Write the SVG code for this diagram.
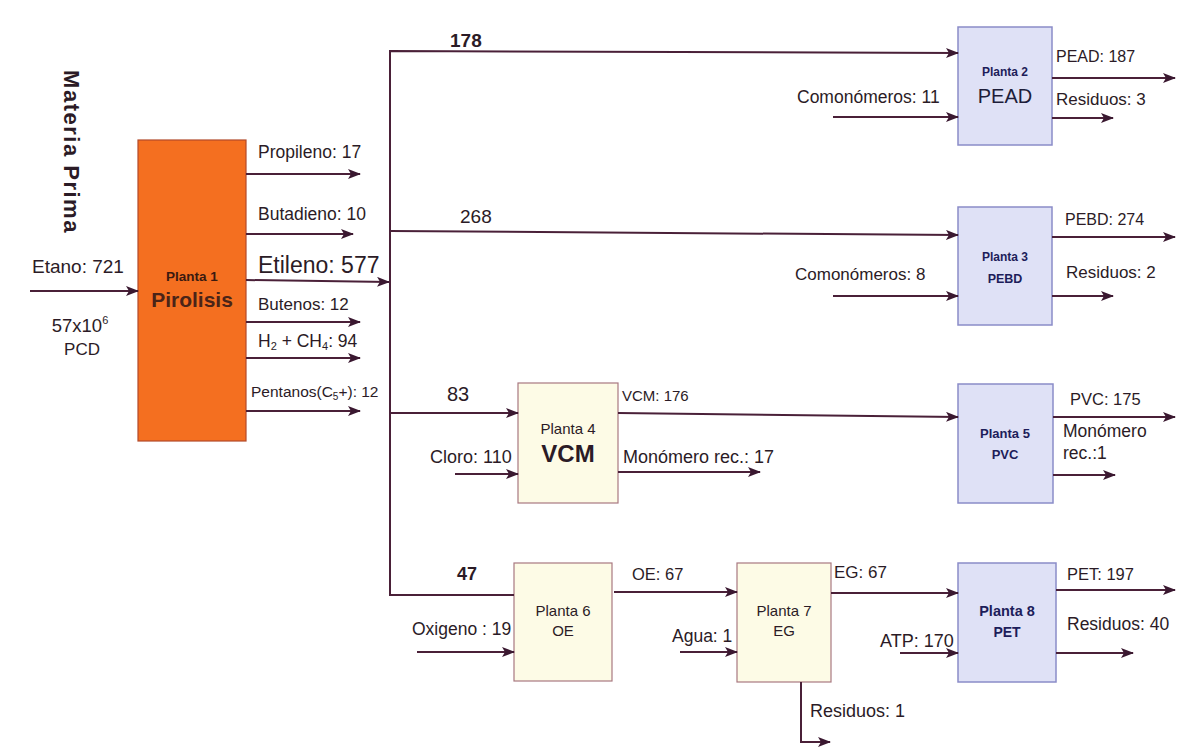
<svg xmlns="http://www.w3.org/2000/svg" width="1177" height="747" viewBox="0 0 1177 747">
<defs>
<marker id="ah" markerWidth="13" markerHeight="10" refX="12" refY="5" orient="auto" markerUnits="userSpaceOnUse">
<path d="M0,0 L13,5 L0,10 L3,5 z" fill="#3a1830"/>
</marker>
<style>
text{font-family:"Liberation Sans",Arial,sans-serif;fill:#2b1b26}
.c{stroke:#4a2038;stroke-width:2;fill:none}
.a{stroke:#4a2038;stroke-width:2;fill:none;marker-end:url(#ah)}
.blue{fill:#dfe1f6;stroke:#8a8cc8;stroke-width:1.5}
.cream{fill:#fdfbe6;stroke:#a87880;stroke-width:1.2}
.nv{fill:#1d1d5a;font-weight:bold;text-anchor:middle}
.m{text-anchor:middle}
.b{font-weight:bold}
</style>
</defs>
<rect width="1177" height="747" fill="#ffffff"/>

<text x="64" y="152" transform="rotate(90 64 152)" class="m b" font-size="22" letter-spacing="1.5">Materia Prima</text>

<g id="planta1">
<rect x="138" y="140" width="108" height="301" fill="#f46f20" stroke="#b24a2a" stroke-width="1.2"/>
<text x="192" y="281" class="m b" font-size="13.5" style="fill:#3a1a10">Planta 1</text>
<text x="192" y="307" class="m b" font-size="21" style="fill:#4a2418">Pirolisis</text>
</g>

<g id="planta2">
<rect x="958" y="27" width="94" height="118" class="blue"/>
<text x="1005" y="76" class="nv" font-size="12">Planta 2</text>
<text x="1005" y="103" class="m" font-size="20" style="fill:#1d1d3a">PEAD</text>
</g>

<g id="planta3">
<rect x="958" y="207" width="94" height="118" class="blue"/>
<text x="1005" y="261" class="nv" font-size="12">Planta 3</text>
<text x="1005" y="283" class="nv" font-size="12.5">PEBD</text>
</g>

<g id="planta4">
<rect x="518" y="383" width="100" height="120" class="cream"/>
<text x="568" y="434" class="m" font-size="15">Planta 4</text>
<text x="568" y="462" class="m b" font-size="24">VCM</text>
</g>

<g id="planta5">
<rect x="958" y="384" width="95" height="119" class="blue"/>
<text x="1005" y="438" class="nv" font-size="13">Planta 5</text>
<text x="1005" y="459" class="nv" font-size="13">PVC</text>
</g>

<g id="planta6">
<rect x="514" y="563" width="98" height="118" class="cream"/>
<text x="563" y="616" class="m" font-size="15">Planta 6</text>
<text x="563" y="636" class="m" font-size="15">OE</text>
</g>

<g id="planta7">
<rect x="737" y="563" width="94" height="119" class="cream"/>
<text x="784" y="616" class="m" font-size="15">Planta 7</text>
<text x="784" y="636" class="m" font-size="15">EG</text>
</g>

<g id="planta8">
<rect x="958" y="563" width="98" height="119" class="blue"/>
<text x="1007" y="616" class="nv" font-size="14.5">Planta 8</text>
<text x="1007" y="637" class="nv" font-size="14">PET</text>
</g>

<g id="connectors">
<line x1="30" y1="291" x2="138" y2="291" class="a"/>
<line x1="246" y1="174" x2="360" y2="174" class="a"/>
<line x1="246" y1="234" x2="353" y2="234" class="a"/>
<line x1="246" y1="280" x2="389" y2="282" class="a"/>
<line x1="246" y1="322" x2="360" y2="322" class="a"/>
<line x1="246" y1="358" x2="360" y2="358" class="a"/>
<line x1="246" y1="411" x2="360" y2="411" class="a"/>
<polyline points="958,53 390,51 390,595 514,595" class="c"/>
<line x1="950" y1="53" x2="958" y2="53" class="a"/>
<line x1="390" y1="231" x2="958" y2="235" class="a"/>
<line x1="390" y1="413" x2="518" y2="413" class="a"/>
<line x1="833" y1="117" x2="958" y2="117" class="a"/>
<line x1="1052" y1="78" x2="1175" y2="78" class="a"/>
<line x1="1052" y1="118" x2="1113" y2="118" class="a"/>
<line x1="833" y1="296" x2="958" y2="296" class="a"/>
<line x1="1052" y1="237" x2="1175" y2="237" class="a"/>
<line x1="1052" y1="296" x2="1113" y2="296" class="a"/>
<line x1="455" y1="474" x2="518" y2="474" class="a"/>
<line x1="618" y1="413" x2="958" y2="417" class="a"/>
<line x1="618" y1="472" x2="760" y2="472" class="a"/>
<line x1="1053" y1="417" x2="1175" y2="417" class="a"/>
<line x1="1053" y1="475" x2="1115" y2="475" class="a"/>
<line x1="417" y1="652" x2="514" y2="652" class="a"/>
<line x1="614" y1="592" x2="737" y2="592" class="a"/>
<line x1="680" y1="652" x2="737" y2="652" class="a"/>
<line x1="831" y1="593" x2="958" y2="593" class="a"/>
<polyline points="801,682 801,742 830,742" class="a"/>
<line x1="900" y1="653" x2="958" y2="653" class="a"/>
<line x1="1056" y1="590" x2="1175" y2="590" class="a"/>
<line x1="1056" y1="653" x2="1133" y2="653" class="a"/>
</g>

<g id="labels">
<text x="32" y="273" font-size="19">Etano: 721</text>
<text x="80" y="332" class="m" font-size="18.5">57x10<tspan font-size="11" dy="-8">6</tspan></text>
<text x="82" y="355" class="m" font-size="17">PCD</text>
<text x="258" y="158" font-size="17.5">Propileno: 17</text>
<text x="258" y="220" font-size="17.5">Butadieno: 10</text>
<text x="258" y="273" font-size="23">Etileno: 577</text>
<text x="258" y="310" font-size="17">Butenos: 12</text>
<text x="258" y="347" font-size="17.5">H<tspan font-size="11" dy="3">2</tspan><tspan dy="-3"> + CH</tspan><tspan font-size="11" dy="3">4</tspan><tspan dy="-3">:  94</tspan></text>
<text x="251" y="397" font-size="15.5">Pentanos(C<tspan font-size="10" dy="3">5</tspan><tspan dy="-3">+): 12</tspan></text>
<text x="450" y="47" class="b" font-size="19">178</text>
<text x="460" y="223" font-size="19">268</text>
<text x="797" y="103" font-size="17.5">Comonómeros: 11</text>
<text x="1056" y="62" font-size="16">PEAD: 187</text>
<text x="1056" y="105" font-size="17">Residuos: 3</text>
<text x="795" y="280" font-size="17">Comonómeros: 8</text>
<text x="1065" y="225" font-size="16">PEBD: 274</text>
<text x="1066" y="278" font-size="17">Residuos: 2</text>
<text x="447" y="401" font-size="20">83</text>
<text x="430" y="463" font-size="18">Cloro: 110</text>
<text x="622" y="401" font-size="15">VCM: 176</text>
<text x="623" y="463" font-size="18">Monómero rec.: 17</text>
<text x="1070" y="405" font-size="16.5">PVC: 175</text>
<text x="1063" y="437" font-size="17.5">Monómero</text>
<text x="1063" y="459" font-size="17.5">rec.:1</text>
<text x="457" y="580" class="b" font-size="18">47</text>
<text x="412" y="635" font-size="17.5">Oxigeno : 19</text>
<text x="632" y="580" font-size="16.5">OE: 67</text>
<text x="672" y="642" font-size="17.5">Agua: 1</text>
<text x="834" y="578" font-size="17">EG: 67</text>
<text x="810" y="717" font-size="18">Residuos: 1</text>
<text x="880" y="647" font-size="18">ATP: 170</text>
<text x="1067" y="580" font-size="16.5">PET: 197</text>
<text x="1067" y="630" font-size="17.5">Residuos: 40</text>
</g>
</svg>
